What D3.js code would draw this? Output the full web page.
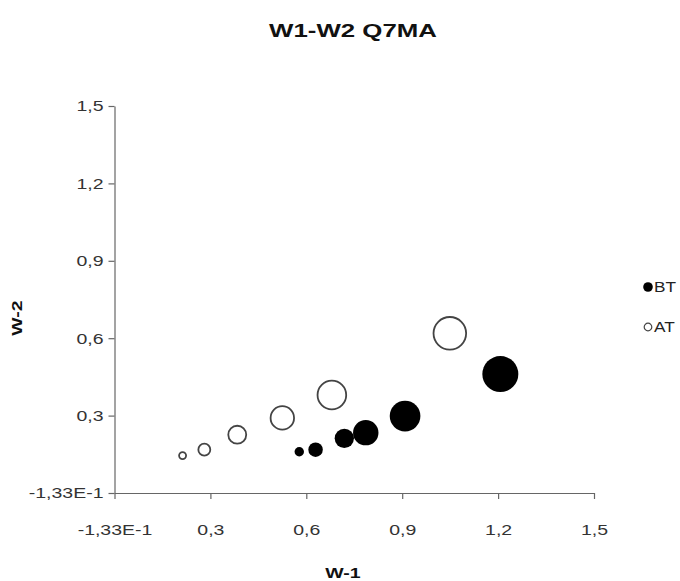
<!DOCTYPE html>
<html>
<head>
<meta charset="utf-8">
<script src="https://cdn.jsdelivr.net/npm/d3@7"></script>
<style>
  body { margin: 0; background: #fff; }
  text { font-family: "Liberation Sans", Arial, sans-serif; }
</style>
</head>
<body>
<div id="chart"></div>
<script>
var width = 680;
var height = 581;

// data
var seriesNames = ["BT", "AT"];
var btX = [0.578, 0.629, 0.719, 0.786, 0.909, 1.207];
var btY = [0.160, 0.168, 0.212, 0.234, 0.298, 0.461];
var btSize = [1.1, 2.6, 4.6, 8, 11.6, 16];
var atX = [0.213, 0.281, 0.384, 0.525, 0.680, 1.049];
var atY = [0.145, 0.168, 0.226, 0.291, 0.380, 0.619];
var atSize = [1, 2.4, 4.9, 8, 11.6, 14.8];
var tickValues = [0, 0.3, 0.6, 0.9, 1.2, 1.5];
var tickLabels = ["-1,33E-1", "0,3", "0,6", "0,9", "1,2", "1,5"];

var stretch = 1.3; // the text in the picture is drawn wide

var svg = d3
  .select("#chart")
  .append("svg")
  .attr("width", width)
  .attr("height", height);

var x = d3.scaleLinear().domain([0, 1.5]).range([114.5, 594]);
var y = d3.scaleLinear().domain([0, 1.5]).range([493, 106]);
var r = d3.scaleSqrt().domain([0, 16]).range([0, 18]);

function widen(sel, s) {
  sel.each(function() {
    var t = d3.select(this);
    var tx = +t.attr("x") || 0;
    var ty = +t.attr("y") || 0;
    t.attr("transform", "translate(" + tx + "," + ty + ") scale(" + s + ",1)")
      .attr("x", 0)
      .attr("y", 0);
  });
}

var xAxis = svg
  .append("g")
  .attr("transform", "translate(0," + y(0) + ")")
  .call(
    d3.axisBottom(x)
      .tickValues(tickValues)
      .tickFormat(function(d, i) { return tickLabels[i]; })
      .tickSize(6)
      .tickSizeOuter(0)
      .tickPadding(25)
  );

var yAxis = svg
  .append("g")
  .attr("transform", "translate(" + x(0) + ",0)")
  .call(
    d3.axisLeft(y)
      .tickValues(tickValues)
      .tickFormat(function(d, i) { return tickLabels[i]; })
      .tickSize(6)
      .tickSizeOuter(0)
      .tickPadding(5)
  );

[xAxis, yAxis].forEach(function(g) {
  g.selectAll("path, line").attr("stroke", "#666").attr("stroke-width", 1.2);
  g.selectAll("text")
    .attr("fill", "#333")
    .style("font-size", "15px");
  widen(g.selectAll("text"), stretch);
});

var bt = btX.map(function(v, i) { return { x: v, y: btY[i], s: btSize[i] }; });
var at = atX.map(function(v, i) { return { x: v, y: atY[i], s: atSize[i] }; });

svg
  .selectAll(".at")
  .data(at)
  .enter()
  .append("circle")
  .attr("class", "at")
  .attr("cx", function(d) { return x(d.x); })
  .attr("cy", function(d) { return y(d.y); })
  .attr("r", function(d) { return r(d.s) - 1; })
  .attr("fill", "#fff")
  .attr("stroke", "#444")
  .attr("stroke-width", 1.8);

svg
  .selectAll(".bt")
  .data(bt)
  .enter()
  .append("circle")
  .attr("class", "bt")
  .attr("cx", function(d) { return x(d.x); })
  .attr("cy", function(d) { return y(d.y); })
  .attr("r", function(d) { return r(d.s); })
  .attr("fill", "#000");

// title and axis titles
var title = svg
  .append("text")
  .attr("x", 353)
  .attr("y", 37)
  .attr("text-anchor", "middle")
  .style("font-size", "19px")
  .style("font-weight", "bold")
  .attr("fill", "#111")
  .text("W1-W2 Q7MA");
widen(title, 1.36);

var xTitle = svg
  .append("text")
  .attr("x", 343)
  .attr("y", 578)
  .attr("text-anchor", "middle")
  .style("font-size", "15px")
  .style("font-weight", "bold")
  .attr("fill", "#111")
  .text("W-1");
widen(xTitle, stretch);

svg
  .append("text")
  .attr("transform", "translate(22,318) rotate(-90) scale(" + stretch + ",1)")
  .attr("text-anchor", "middle")
  .style("font-size", "15px")
  .style("font-weight", "bold")
  .attr("fill", "#111")
  .text("W-2");

// legend
var legend = svg
  .selectAll(".legend")
  .data(seriesNames)
  .enter()
  .append("g")
  .attr("class", "legend")
  .attr("transform", function(d, i) { return "translate(648," + (287 + i * 40) + ")"; });

legend
  .append("circle")
  .attr("r", function(d, i) { return i === 0 ? 4.8 : 3.8; })
  .attr("fill", function(d, i) { return i === 0 ? "#000" : "#fff"; })
  .attr("stroke", function(d, i) { return i === 0 ? "none" : "#444"; })
  .attr("stroke-width", 1.2);

var legendText = legend
  .append("text")
  .attr("x", 6)
  .attr("y", 5)
  .style("font-size", "15px")
  .attr("fill", "#222")
  .text(function(d) { return d; });
widen(legendText, 1.15);
</script>
</body>
</html>
